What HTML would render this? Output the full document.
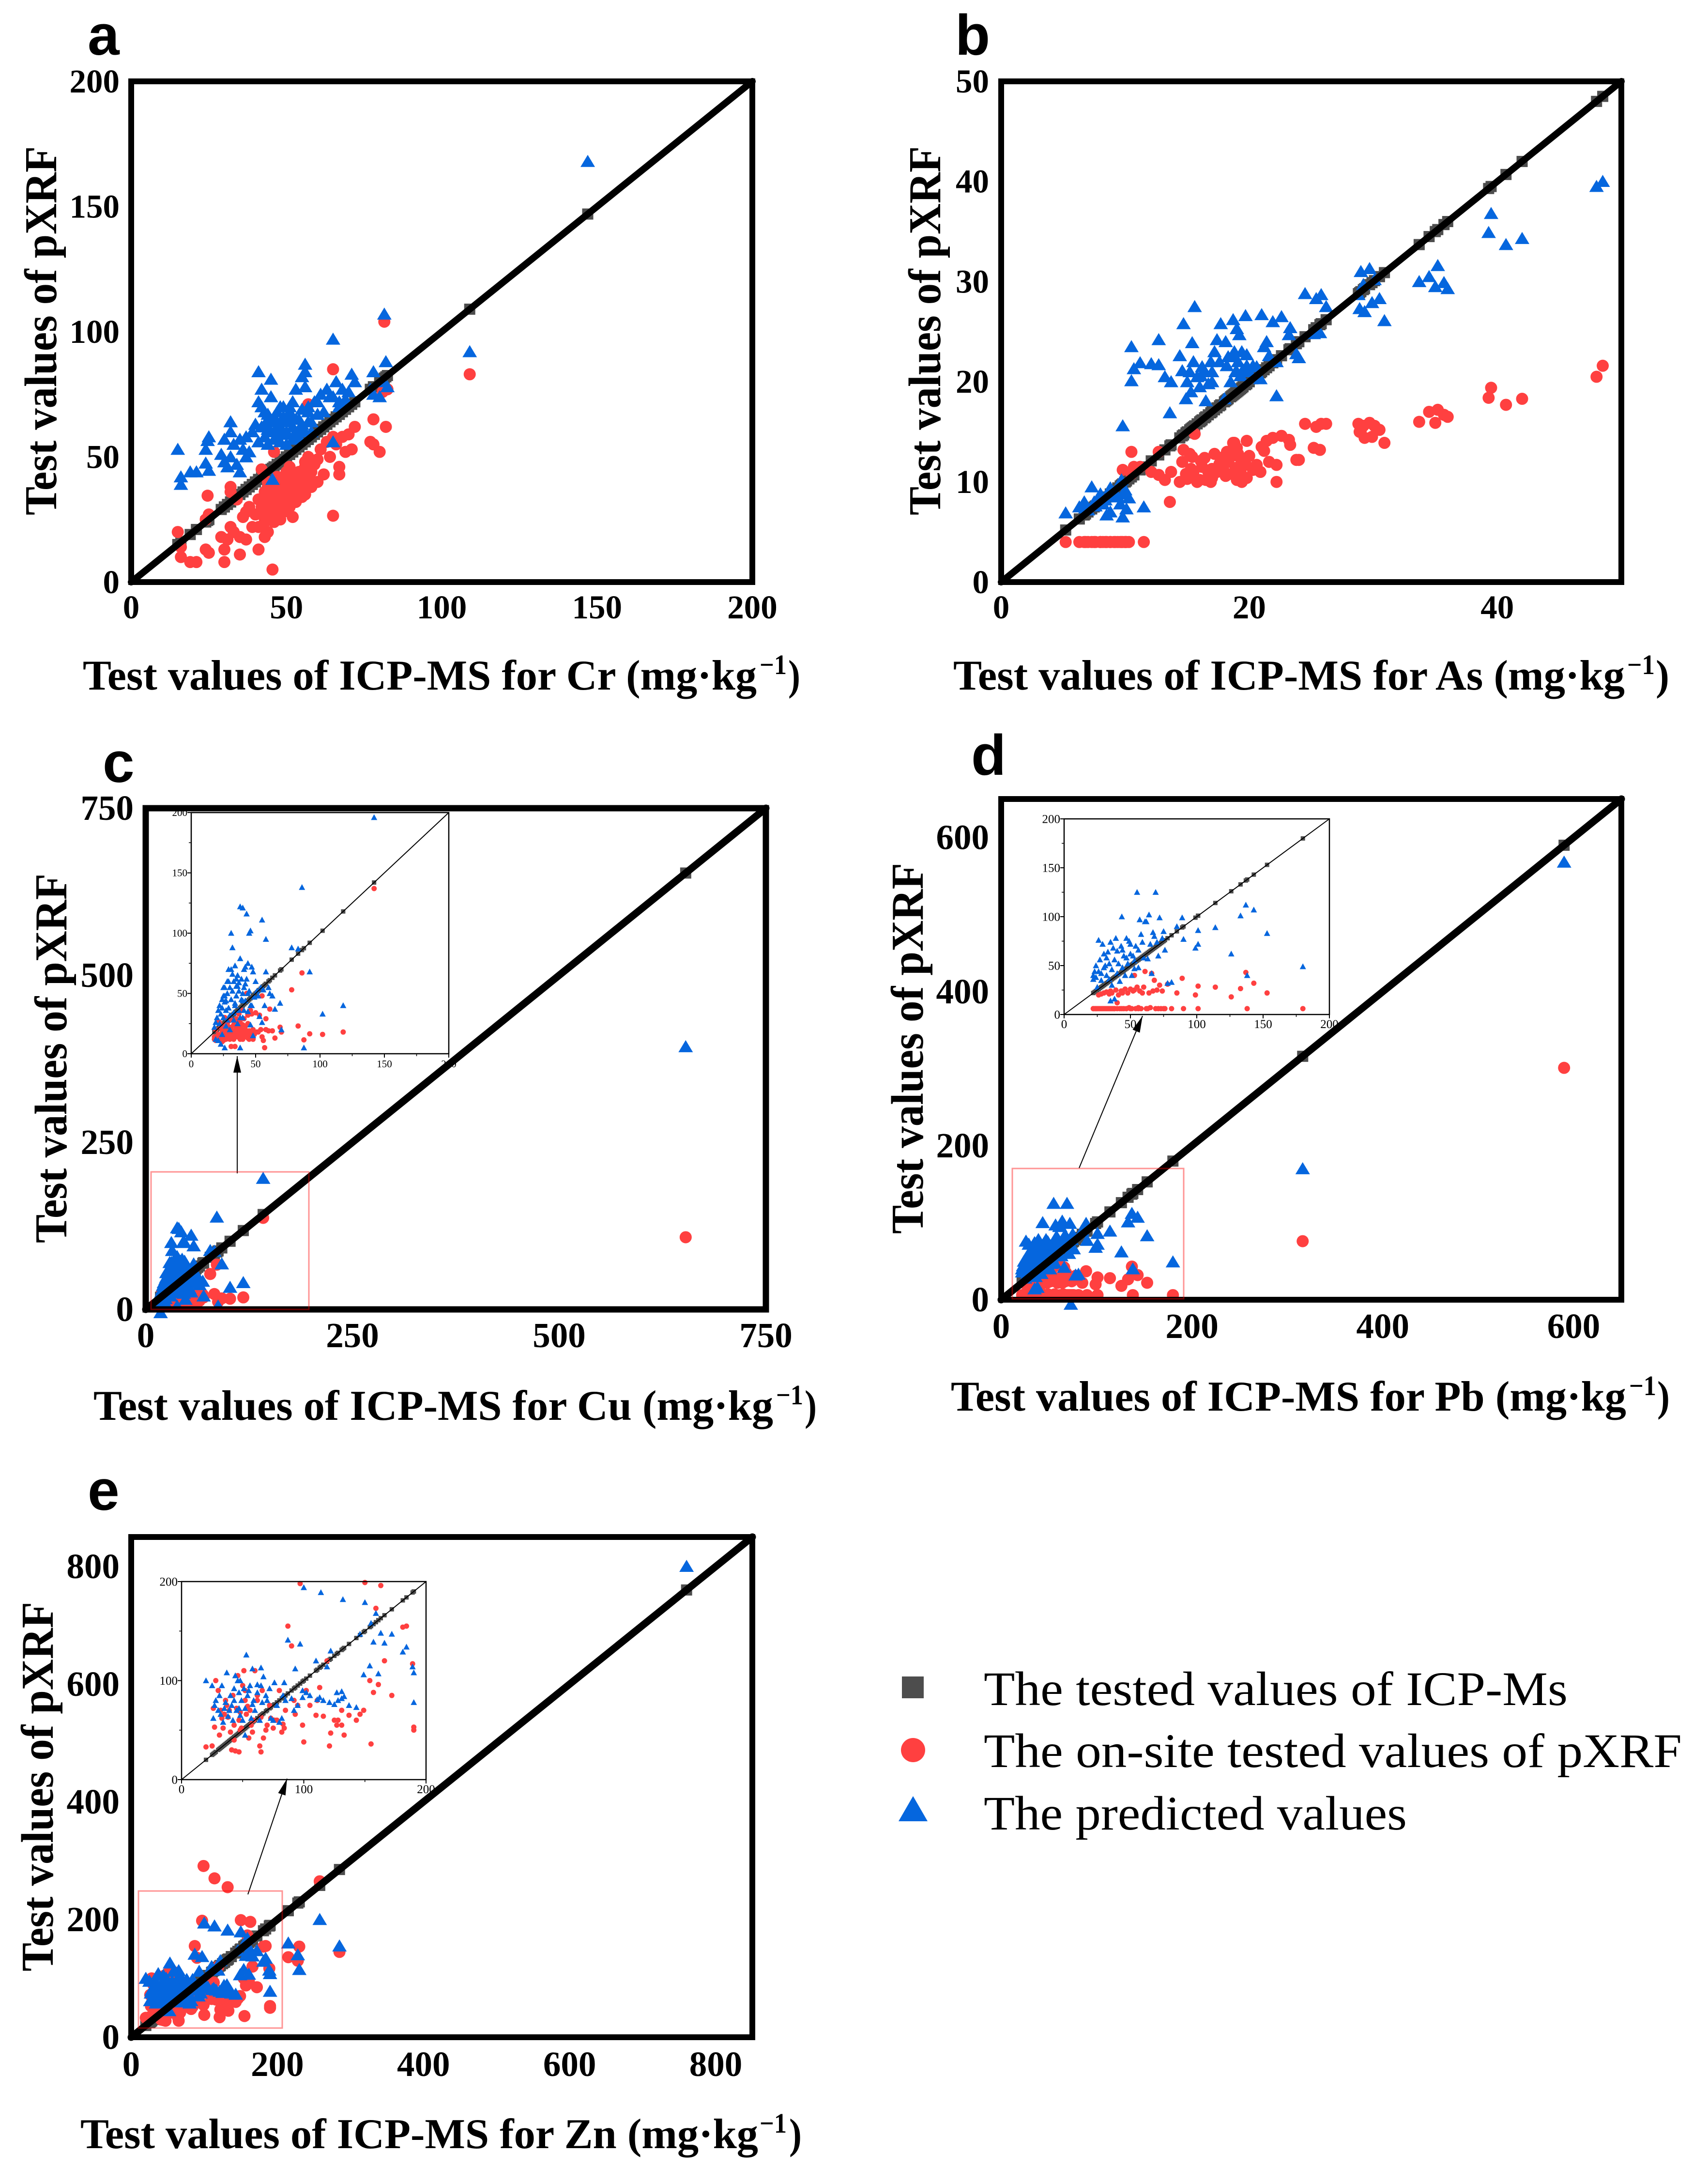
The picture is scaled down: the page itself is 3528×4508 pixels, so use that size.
<!DOCTYPE html>
<html lang="en">
<head>
<meta charset="utf-8">
<title>ICP-MS vs pXRF scatter panels</title>
<style>
html,body{margin:0;padding:0;background:#fff;}
svg{display:block;}
.serif{font-family:"Liberation Serif",serif;}
.bold{font-weight:bold;}
.panel-letter{font-family:"Liberation Sans",sans-serif;font-weight:bold;font-size:118px;fill:#000;}
.axis-title{font-family:"Liberation Serif",serif;font-weight:bold;font-size:88px;fill:#000;}
.axis-title-y{font-family:"Liberation Serif",serif;font-weight:bold;font-size:94px;fill:#000;}
.axis-sup{font-family:"Liberation Serif",serif;font-weight:bold;font-size:58px;fill:#000;}
.legend-text{font-family:"Liberation Serif",serif;font-size:100px;fill:#000;}
</style>
</head>
<body>
<svg id="figure" xmlns="http://www.w3.org/2000/svg" width="3528" height="4508" viewBox="0 0 3528 4508">
<rect width="3528" height="4508" fill="#ffffff"/>

<text class="panel-letter" x="181" y="113">a</text>
<text class="panel-letter" x="1973" y="113">b</text>
<text class="panel-letter" x="212" y="1615">c</text>
<text class="panel-letter" x="2006" y="1600">d</text>
<text class="panel-letter" x="181" y="3118">e</text>

<g id="panels"></g>

<text class="axis-title-y" transform="translate(116,1064) rotate(-90)" textLength="762" lengthAdjust="spacingAndGlyphs">Test values of pXRF</text>
<text class="axis-title-y" transform="translate(1942,1064) rotate(-90)" textLength="762" lengthAdjust="spacingAndGlyphs">Test values of pXRF</text>
<text class="axis-title-y" transform="translate(137,2567) rotate(-90)" textLength="763" lengthAdjust="spacingAndGlyphs">Test values of pXRF</text>
<text class="axis-title-y" transform="translate(1906,2548) rotate(-90)" textLength="766" lengthAdjust="spacingAndGlyphs">Test values of pXRF</text>
<text class="axis-title-y" transform="translate(109,4071) rotate(-90)" textLength="763" lengthAdjust="spacingAndGlyphs">Test values of pXRF</text>

<text class="axis-title" x="171" y="1424" textLength="1392" lengthAdjust="spacingAndGlyphs">Test values of ICP-MS for Cr (mg·kg</text>
<text class="axis-sup" x="1569" y="1392" textLength="56" lengthAdjust="spacingAndGlyphs">−1</text>
<text class="axis-title" x="1628" y="1424" textLength="25" lengthAdjust="spacingAndGlyphs">)</text>

<text class="axis-title" x="1969" y="1424" textLength="1387" lengthAdjust="spacingAndGlyphs">Test values of ICP-MS for As (mg·kg</text>
<text class="axis-sup" x="3361" y="1392" textLength="57" lengthAdjust="spacingAndGlyphs">−1</text>
<text class="axis-title" x="3420" y="1424" textLength="28" lengthAdjust="spacingAndGlyphs">)</text>

<text class="axis-title" x="193" y="2932" textLength="1404" lengthAdjust="spacingAndGlyphs">Test values of ICP-MS for Cu (mg·kg</text>
<text class="axis-sup" x="1603" y="2900" textLength="56" lengthAdjust="spacingAndGlyphs">−1</text>
<text class="axis-title" x="1662" y="2932" textLength="25" lengthAdjust="spacingAndGlyphs">)</text>

<text class="axis-title" x="1964" y="2913" textLength="1395" lengthAdjust="spacingAndGlyphs">Test values of ICP-MS for Pb (mg·kg</text>
<text class="axis-sup" x="3365" y="2881" textLength="56" lengthAdjust="spacingAndGlyphs">−1</text>
<text class="axis-title" x="3423" y="2913" textLength="26" lengthAdjust="spacingAndGlyphs">)</text>

<text class="axis-title" x="166" y="4436" textLength="1400" lengthAdjust="spacingAndGlyphs">Test values of ICP-MS for Zn (mg·kg</text>
<text class="axis-sup" x="1569" y="4404" textLength="56" lengthAdjust="spacingAndGlyphs">−1</text>
<text class="axis-title" x="1630" y="4436" textLength="26" lengthAdjust="spacingAndGlyphs">)</text>

<g>
  <rect x="1863" y="3462" width="45" height="45" fill="#4d4d4d"/>
  <ellipse cx="1886" cy="3614" rx="25" ry="25" fill="#ff4040"/>
  <polygon points="1886,3709 1856,3761 1916,3761" fill="#0566de"/>
  <text class="legend-text" x="2032" y="3521" textLength="1206" lengthAdjust="spacingAndGlyphs">The tested values of ICP-Ms</text>
  <text class="legend-text" x="2032" y="3649" textLength="1442" lengthAdjust="spacingAndGlyphs">The on-site tested values of pXRF</text>
  <text class="legend-text" x="2032" y="3778" textLength="874" lengthAdjust="spacingAndGlyphs">The predicted values</text>
</g>
</svg>

<script>
var crIcp=[147,109,81.5,65,65,45.5,15,16,16,19,21,24,25,24.6,24,25,29,30,30,31,32,32,32,33,34,35,35,36,37,37,38,39,40,41,41,42,42,43,43,44,44,45,45,45,46,46,47,47,48,48,49,49,50,50,51,51,52,52,53,53,54,55,55,56,56,56,57,57,58,59,60,60,61,62,63,64,65,66,67,67,68,69,70,71,72,77,78,78,80,82,82.5,81,
43,44,45,46,47,48,49,50,51,52,53,54,41,42,43,44,46,48,50,52,54,55,56,57,58];
var crPxrf=[null,83,104,85,26.5,5,20,14,10,8,8,13,11.7,34.5,25,27,18,13,8,17,38,36,22,20,33,11,18,26,28,17,30,22,27,13,33,45,30,24,36,40,26,34,28,37,52,24,42,33,30,38,28,36,44,33,46,30,38,35,36,40,44,34,39,48,35,46,71,50,44,47,40,49,53,43,56,50,58,55,46,43,58,52,59,53,62,56,55,65,52,62,77,76,
32,38,31,36,28,35,41,38,34,42,32,38,22,27,18,20,29,25,30,26,40,44,37,41,38];
var crPredicted=[168,92,107,97,56,41,53,42,39,44,44,47.5,44.6,56.5,53,58,51,57,48,46,64,60,50,55,47,44,57,53,58,50,52,60,63,72,84,77,70,58,62,65,55,81,74,60,66,64,58,68,56,62,65,70,59,64,66,68,72,62,60,77,65,82,63,87,84,78,70,68,64,72,67,72,75,68,77,74,74,80,70,72,77,73,76,83,80,77,75,84,74,88,78,80,
68,61,64,57,62,59,66,60,70,57,65,58,56,62,58,67,60,70,55,66,61,69,60,64,60];

var asIcp=[48.5,48,42,40.7,39.5,39.3,36,35.7,35.2,35,
34.5,33.7,30.9,30.5,30.1,29.9,29.7,29.3,29.2,29,
28.9,28.8,26.2,25.8,25.7,25.4,25.2,24.5,24,23.8,
23.3,23.2,22.6,22.2,22.2,21.9,21.6,21.4,21.2,21,
20.9,20.3,19.8,19.7,19.4,19.2,19,18.8,18.7,18.5,
18.3,18.1,18,17.7,17.2,17,16.7,16.5,16.2,15.8,
15.6,15.4,15.3,15,14.9,14.7,14.6,14.4,13.6,13.7,
13.2,12.7,12.7,12.1,11.2,10.5,10.7,10.5,9.8,11.5,
10.1,10,9.8,9.7,9.4,9.1,8.8,8.5,8.2,8,
7.6,7.3,7,6.7,6.3,5.2,16.1,16.9,17.4,18.9,
19.1,19.5,20,20.6,
6.8,7.5,8,8.4,8.8,9.2,9.6,10,10.3,15.2,
15.5,16,16.4,17,17.6,18.2,18.6,19,19.3,19.8];
var asPxrf=[21.6,20.5,18.3,17.7,19.4,18.4,16.5,16.7,17.2,15.9,
17,16,13.9,15.2,15.6,14.5,15.9,14.4,15.6,15.2,
15,15.8,15.8,15.8,13.2,15.5,13.4,15.8,12.2,12.2,
13.7,14.2,14.6,10,11.7,14.4,12,14.1,13.1,13.5,
11,11.2,14.1,11.8,10,12.5,10.2,13.9,13.9,12.5,
12,10.6,11,12.4,12.8,11.3,11,10.2,11.5,10,
14.8,12.5,11.3,10.3,10.8,13.2,12,10,8,11,
10.2,13,10.7,11,11.5,13,11.5,10.8,11.2,4,
4,4,4,4,4,4,4,4,4,4,
4,4,4,4,4,4,12.1,10,11,11.4,
12.8,11.6,12.6,11.7,
4,4,4,4,4,4,4,4,4,12.8,
11,10.2,12.4,10.4,11.8,13,10.8,13.4,11,10.4];
var asPredicted=[40,39.5,34.3,33.7,36.8,34.9,29.3,29.9,31.6,29.5,
30.5,30,26.1,28.3,30.2,27.9,31.3,27,29.7,31,
27.3,28.7,27.5,28.7,24.9,28.3,24.8,28.8,22.4,22.8,
25.4,24.7,26.5,18.6,22,26,22.6,24,23.5,26.7,
20.3,21.6,22.7,26.6,23,24.7,25.3,23,26.2,20,
22.5,24,18.3,25.8,23,21,19.8,18.1,21.5,20.5,
27.5,23.9,19,20,18.3,25.8,21.1,22.6,16.9,20,
20.5,21.7,24.2,21.8,21.9,23.5,21.3,20.1,15.6,7.5,
7.3,8.8,6.5,10.2,8.5,9,7,6.7,7.8,8.5,
7.6,9.5,7.2,8,7.5,6.9,20.6,22,24.2,21,
22,21.2,21,21.5,
7.4,8,8.8,8.2,9.4,8.6,7.8,9.2,8.4,21,
22,19.5,21,20,22,21.6,22.6,21,20.6,21.6];

var cuIcp=[653,142,118,102,92,87.5,86,83,78,70,
69,65,63,61,60,58,58,57,56,55,
55,54,53,52,51,50,49,48,48,47,
47,46,46,45,45,44,44,43,43,42,
42,41,41,40,40,40,39,39,38,38,
38,37,37,36,36,35,35,34,34,33,
33,32,32,31,31,31,30,30,29,29,
28,28,27,27,26,26,26,25,25,25,
24,24,23,23,22,22,21,21,20,19,
19,18,18,
24,26,28,30,32,34,36,38,40,42,44,46,27,29,33,35,37,41];
var cuPxrf=[108,137,18,16,16.5,11.5,67,23,53,18,
22,13,19,37,19,29,20,5,11,48,
14,20,32,18,18,34,16,20,12,18,
33,15,36,19,12,13,32,16,50,18,
23,14,29,36,17,24,20,15,16,26,
12,19,33,21,14,29,15,19,6,12,
24,28,17,22,16,6,18,12,16,27,
24,13,12,21,30,18,14,11,23,15,
19,10,22,13,26,12,14,16,26,20,
11,14,12,
16,24,20,14,19,26,17,22,12,20,25,14,18,22,15,21,27,18];
var cuPredicted=[393,196,40,33,68,5,138,87,88,20,
42,37,48,50,55,95,68,40,53,111,
26,55,31,48,52,60,47,68,15,72,
40,102,24,52,100,75,35,116,62,44,
72,55,70,121,50,30,62,45,122,79,
5,36,59,65,25,56,48,73,40,60,
34,88,52,100,45,70,55,20,60,38,
50,28,23,36,5,55,43,55,30,48,
45,16,8,33,40,25,11,36,30,26,
12,22,-5,
38,48,60,32,66,42,56,30,44,58,50,40,44,70,28,62,52,36];

var pbIcp=[590,316,180,153,143,138,137,133,126,114,
101,101,99,89,90,85,81,78,75,74,
72,70,69,68,66,65,64,62,61,60,
58,57,56,55,54,53,52,51,50,49,
48,47,46,45,44,43.5,43,42,41,40,
40,39,38,37,36,36,35,34,34,33,
32,32,31,30,30,29,28,28,27,26,
26,25,24,24,23,22,22,38,73,35,
44,47,50,53,56,59,63,67,71,76];
var pbPxrf=[301,76,6,22,32,6,43,26.5,18,28,
29,6,20,37,6,22,6,31,6,24,
30,25,6,35,42,7,22,6,44,28,
6,24,7,28,6,40,24,6,26,7,
22,6,26,6,22,6,24,6,20,12,
6,25,6,6,22,6,24,6,21,6,
23,6,6,22,6,6,21,6,6,20,
6,6,6,6,6,6,6,6,6,6,
24,6,6,25,6,22,6,24,6,6];
var pbPredicted=[568,170,49,83,107,40,112,101,62,89,
86,72,68,99,77,90,33,32,85,78,
99,74,125,80,42,72,102,95,95,58,
82,97,48,125,70,55,60,40,62,75,
52,78,40,60,48,100,70,34,52,65,
42,78,56,68,46,30,74,52,36,64,
40,58,50,48,62,72,42,35,56,76,
44,28,50,38,44,40,36,16,-6,14,
66,58,72,47,66,74,57,84,60,66];

var znIcp=[760,285,258,230,228,215,190,190,189,184,
181,172,166,163,161,159,157,155,154,150,
149,146,143,137,133,132,131,131,128,127,
125,122,121,119,116,114,113,111,110,105,
102,100,99,99,97,95,93,92,90,87,
85,84,83,82,80,78,76,75,73,70,
69,66,65,65,64,62,60,59,58,57,
56,55,54,53,52,51,50,49,48,47,
47,46,45,44,43,42,41,40,39,38,
36,35,34,32,30,28,27,26,25,20,
31,33,37,43,48,52,58,62,67,72];
var znPxrf=[null,145,265,154,130,136,53,50,117,155,
154,85,120,196,96,173,88,36,100,199,
70,66,60,65,45,255,70,55,60,55,
60,47,34,120,64,270,93,80,65,75,
90,38,55,291,198,75,66,80,135,155,
70,52,56,48,90,60,60,52,62,55,
50,90,63,28,34,80,110,60,48,55,
70,42,74,66,80,110,95,52,68,60,
28,105,72,29,55,85,30,48,70,63,
80,66,52,70,90,100,53,72,34,33,
45,62,75,40,50,90,60,85,42,75];
var znPredicted=[800,155,200,115,140,160,78,108,114,134,
129,147,138,148,107,168,139,158,115,179,
106,147,73,75,84,182,89,82,80,88,
76,130,78,114,80,189,83,81,120,85,
88,194,83,90,137,75,112,70,82,141,
80,98,85,62,58,75,98,60,62,80,
85,78,95,113,60,96,70,80,112,62,
95,90,85,126,45,92,60,80,65,88,
72,100,70,105,80,60,75,85,70,64,
78,72,58,66,70,80,75,62,95,100,
85,95,108,92,100,72,76,88,104,92];

var crTicks=[0,50,100,150,200];
var asTicks=[0,20,40];
var asTicksY=[0,10,20,30,40,50];
var cuTicks=[0,250,500,750];
var pbTicks=[0,200,400,600];
var znTicks=[0,200,400,600,800];
var insetTicks=[0,50,100,150,200];
var insetMinor=[25,75,125,175];
var znInsetTicks=[0,100,200];
var znInsetMinor=[50,150];

var NS='http://www.w3.org/2000/svg';
var root=document.getElementById('panels');
var GREY='#4d4d4d',RED='#ff4040',BLUE='#0566de';

function mk(parent,tag,attrs){
  var el=document.createElementNS(NS,tag);
  for(var k in attrs){el.setAttribute(k,attrs[k]);}
  parent.appendChild(el);
  return el;
}
function scales(box,max){
  return {
    x:function(v){return box.x0+v/max*(box.x1-box.x0);},
    y:function(v){return box.y1-v/max*(box.y1-box.y0);}
  };
}
function triPoints(cx,cy,w,h){
  return cx+','+(cy-h*0.55)+' '+(cx-w/2)+','+(cy+h*0.45)+' '+(cx+w/2)+','+(cy+h*0.45);
}
function drawMarks(g,s,icp,pxrf,pred,m,limit){
  var i,el;
  for(i=0;i<icp.length;i++){
    if(limit&&icp[i]>limit){continue;}
    el=mk(g,'rect',{x:s.x(icp[i])-m.sq/2,y:s.y(icp[i])-m.sq/2,width:m.sq,height:m.sq,fill:GREY});
    
    
  }
  for(i=0;i<icp.length;i++){
    if(pxrf[i]===null||pxrf[i]===undefined){continue;}
    if(limit&&(icp[i]>limit||pxrf[i]>limit||pxrf[i]<0)){continue;}
    el=mk(g,'circle',{cx:s.x(icp[i]),cy:s.y(pxrf[i]),r:m.r,fill:RED});
    
    
  }
  for(i=0;i<icp.length;i++){
    if(pred[i]===null||pred[i]===undefined){continue;}
    if(limit&&(icp[i]>limit||pred[i]>limit||pred[i]<0)){continue;}
    el=mk(g,'polygon',{points:triPoints(s.x(icp[i]),s.y(pred[i]),m.w,m.h),fill:BLUE});
    
    
  }
}
function drawInset(g,cfg,icp,pxrf,pred){
  var b=cfg.box,s=scales(b,200),i,el;
  drawMarks(g,s,icp,pxrf,pred,cfg.marks,200);
  el=mk(g,'line',{x1:s.x(0),y1:s.y(0),x2:s.x(200),y2:s.y(200),stroke:'#000','stroke-width':2});
  
  
  el=mk(g,'rect',{x:b.x0,y:b.y0,width:b.x1-b.x0,height:b.y1-b.y0,fill:'none',stroke:'#000','stroke-width':2.5});
  
  
  for(i=0;i<cfg.ticks.length;i++){
    var t=cfg.ticks[i];
    el=mk(g,'line',{x1:s.x(t),y1:b.y1,x2:s.x(t),y2:b.y1+8,stroke:'#000','stroke-width':2});
    
    
    el=mk(g,'line',{x1:b.x0,y1:s.y(t),x2:b.x0-8,y2:s.y(t),stroke:'#000','stroke-width':2});
    
    
    el=mk(g,'text',{x:s.x(t),y:b.y1+28,'text-anchor':'middle','font-size':cfg.font,'class':'serif',fill:'#000'});
    
    
    el.textContent=t;
    el=mk(g,'text',{x:b.x0-8,y:s.y(t)+cfg.font*0.33,'text-anchor':'end','font-size':cfg.font,'class':'serif',fill:'#000'});
    
    
    el.textContent=t;
  }
  for(i=0;i<cfg.minor.length;i++){
    var u=cfg.minor[i];
    el=mk(g,'line',{x1:s.x(u),y1:b.y1,x2:s.x(u),y2:b.y1+5,stroke:'#000','stroke-width':1.5});
    
    
    el=mk(g,'line',{x1:b.x0,y1:s.y(u),x2:b.x0-5,y2:s.y(u),stroke:'#000','stroke-width':1.5});
    
    
  }
  var a=cfg.arrow;
  el=mk(g,'line',{x1:a[0],y1:a[1],x2:a[2],y2:a[3],stroke:'#000','stroke-width':2});
  
  
  var dx=a[2]-a[0],dy=a[3]-a[1],len=Math.sqrt(dx*dx+dy*dy),ux=dx/len,uy=dy/len,bx=a[2]-ux*34,by=a[3]-uy*34;
  el=mk(g,'polygon',{points:a[2]+','+a[3]+' '+(bx-uy*8)+','+(by+ux*8)+' '+(bx+uy*8)+','+(by-ux*8),fill:'#000'});
  
  
}
function drawPanel(cfg){
  var g=mk(root,'g',{});
  
  
  var b=cfg.box,s=scales(b,cfg.max),i,el;
  drawMarks(g,s,cfg.icp,cfg.pxrf,cfg.pred,cfg.marks,0);
  if(cfg.inset){drawInset(g,cfg.inset,cfg.icp,cfg.pxrf,cfg.pred);}
  el=mk(g,'line',{x1:s.x(0),y1:s.y(0),x2:s.x(cfg.max),y2:s.y(cfg.max),stroke:'#000','stroke-width':cfg.line,'stroke-linecap':'round'});
  
  
  el=mk(g,'rect',{x:b.x0,y:b.y0,width:b.x1-b.x0,height:b.y1-b.y0,fill:'none',stroke:'#000','stroke-width':cfg.frame});
  
  
  if(cfg.inset){
    var z=cfg.inset.zoomBox;
    el=mk(g,'rect',{x:z.x0,y:z.y0,width:z.x1-z.x0,height:z.y1-z.y0,fill:'none',stroke:'#ff0000','stroke-opacity':0.42,'stroke-width':3});
    
    
  }
  for(i=0;i<cfg.xTicks.length;i++){
    el=mk(g,'text',{x:s.x(cfg.xTicks[i]),y:cfg.xBase,'text-anchor':'middle','font-size':cfg.font,'class':'serif bold',fill:'#000'});
    
    
    el.textContent=cfg.xTicks[i];
  }
  for(i=0;i<cfg.yTicks.length;i++){
    el=mk(g,'text',{x:cfg.yRight,y:s.y(cfg.yTicks[i])+cfg.font*0.33,'text-anchor':'end','font-size':cfg.font,'class':'serif bold',fill:'#000'});
    
    
    el.textContent=cfg.yTicks[i];
  }
}

var mainMarks={sq:23,r:12.5,w:30,h:25};
var tinyMarks={sq:9,r:5.5,w:13,h:12};

drawPanel({name:'panel-a-cr',box:{x0:271,x1:1554,y0:168,y1:1202},max:200,icp:crIcp,pxrf:crPxrf,pred:crPredicted,marks:mainMarks,line:14,frame:12,font:69,xTicks:crTicks,yTicks:crTicks,xBase:1277,yRight:247});
drawPanel({name:'panel-b-as',box:{x0:2068,x1:3349,y0:168,y1:1202},max:50,icp:asIcp,pxrf:asPxrf,pred:asPredicted,marks:mainMarks,line:14,frame:12,font:69,xTicks:asTicks,yTicks:asTicksY,xBase:1277,yRight:2043});
drawPanel({name:'panel-c-cu',box:{x0:301,x1:1582,y0:1669,y1:2704},max:750,icp:cuIcp,pxrf:cuPxrf,pred:cuPredicted,marks:mainMarks,line:15,frame:13,font:73,xTicks:cuTicks,yTicks:cuTicks,xBase:2782,yRight:276,
  inset:{box:{x0:395,x1:927,y0:1678,y1:2176},marks:tinyMarks,font:21,ticks:insetTicks,minor:insetMinor,zoomBox:{x0:312,x1:638,y0:2420,y1:2704},arrow:[490,2423,490,2181]}});
drawPanel({name:'panel-d-pb',box:{x0:2068,x1:3349,y0:1650,y1:2684},max:650,icp:pbIcp,pxrf:pbPxrf,pred:pbPredicted,marks:mainMarks,line:15,frame:12,font:73,xTicks:pbTicks,yTicks:pbTicks,xBase:2763,yRight:2043,
  inset:{box:{x0:2198,x1:2746,y0:1691,y1:2095},marks:tinyMarks,font:25,ticks:insetTicks,minor:insetMinor,zoomBox:{x0:2091,x1:2445,y0:2413,y1:2682},arrow:[2229,2412,2360,2098]}});
drawPanel({name:'panel-e-zn',box:{x0:271,x1:1554,y0:3174,y1:4207},max:850,icp:znIcp,pxrf:znPxrf,pred:znPredicted,marks:mainMarks,line:15,frame:12,font:73,xTicks:znTicks,yTicks:znTicks,xBase:4287,yRight:247,
  inset:{box:{x0:375,x1:880,y0:3266,y1:3675},marks:tinyMarks,font:25,ticks:znInsetTicks,minor:znInsetMinor,zoomBox:{x0:286,x1:583,y0:3905,y1:4188},arrow:[512,3912,593,3673]}});
</script>
</body>
</html>
